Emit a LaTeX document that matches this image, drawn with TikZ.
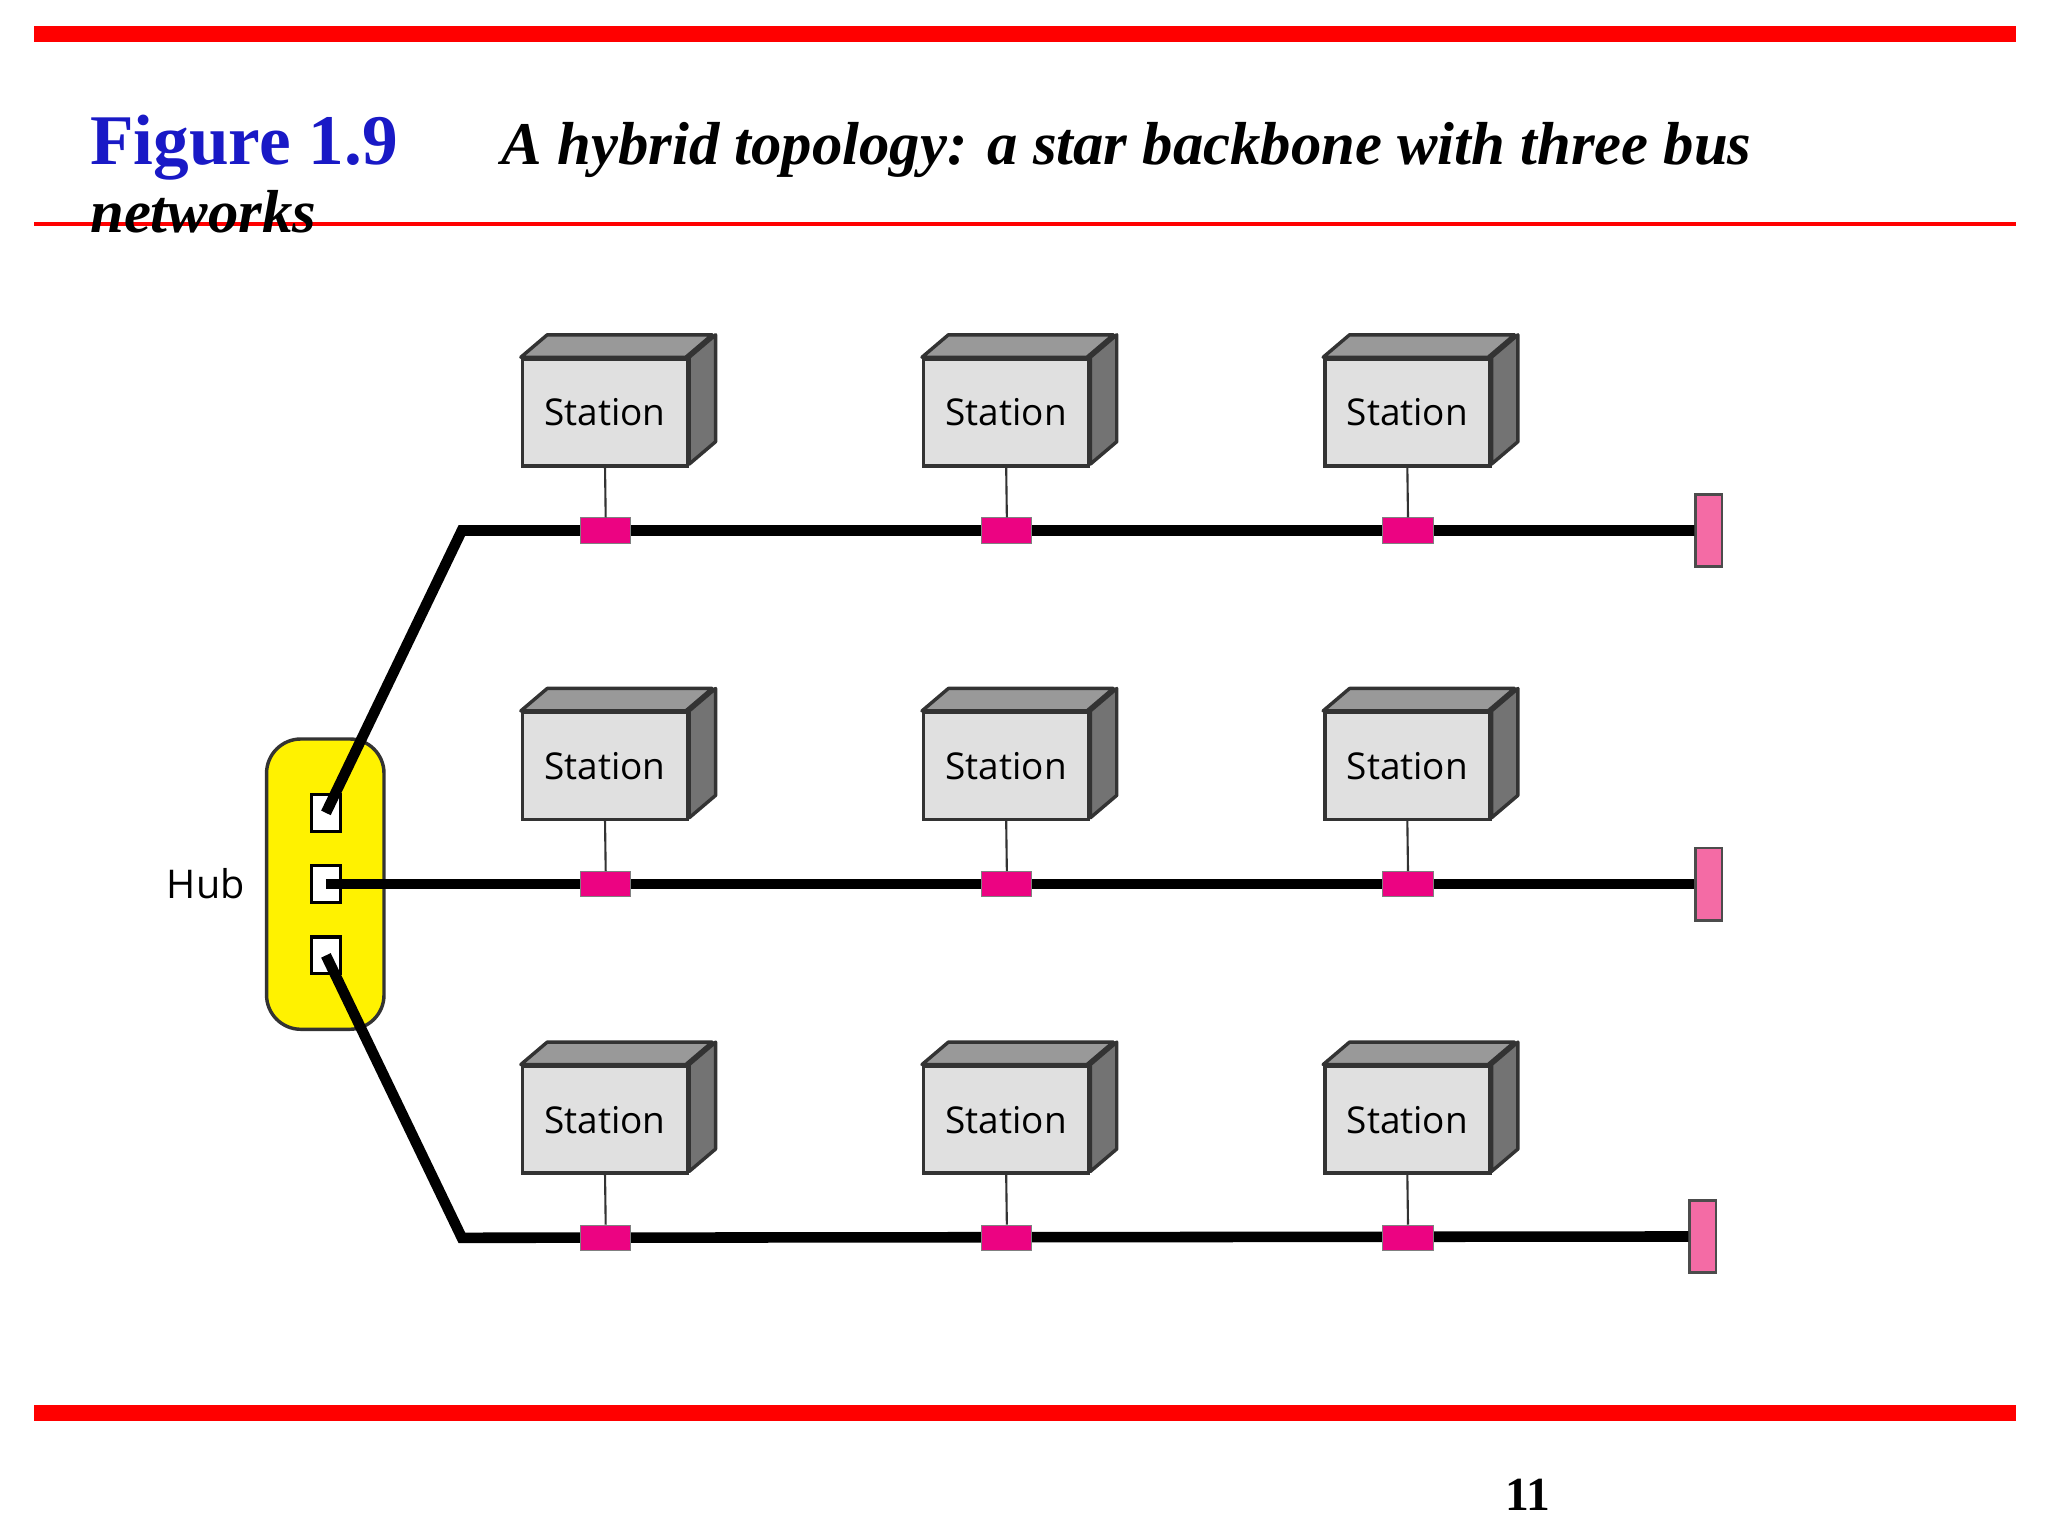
\documentclass[tikz,border=0pt]{standalone}
\usepackage{fontspec}
\setmainfont{Liberation Serif}
\newfontfamily\stfont{Open Sans}
\begin{document}
\begin{tikzpicture}[x=0.5pt,y=-0.5pt,
  station/.style={draw=black!80,line width=1.3pt,fill=black!12,minimum width=62.5pt,minimum height=40.5pt,inner sep=0pt,font=\stfont\fontsize{14}{16}\selectfont},
  tap/.style={draw=black!50,line width=0.4pt,fill=magenta!90!red,minimum width=19pt,minimum height=9.5pt,inner sep=0pt},
  term/.style={draw=black!70,line width=1pt,fill=magenta!45!pink,minimum width=10pt,minimum height=27.5pt,inner sep=0pt},
  port/.style={draw=black,line width=1.2pt,fill=white,minimum width=11pt,minimum height=14pt,inner sep=0pt},
  bus/.style={line width=4pt,black},
  stem/.style={line width=0.8pt,black!80}]
\useasboundingbox (0,0) rectangle (1552,1164);
\fill[red] (26,20) rectangle (1528,32);
\fill[red] (26,168.5) rectangle (1528,171.5);
\fill[red] (26,1065) rectangle (1528,1077);
\node[anchor=base west,inner sep=0pt,text=blue!75!black!90,font=\bfseries\fontsize{27}{30}\selectfont] (fig) at (68,125) {Figure 1.9};
\node[anchor=base west,inner sep=0pt,font=\bfseries\itshape\fontsize{23}{26}\selectfont] (title) at (380,125) {A hybrid topology: a star backbone with three bus};
\node[anchor=base west,inner sep=0pt,font=\bfseries\itshape\fontsize{23}{26}\selectfont] (title2) at (68,176) {networks};
\node[anchor=base,inner sep=0pt,font=\bfseries\fontsize{18}{20}\selectfont] (page) at (1158,1145) {11};
% hub
\node[draw=black!80,line width=1.3pt,fill=yellow,rounded corners=13pt,minimum width=44.5pt,minimum height=110pt] (hub) at (246.5,670) {};
\node[font=\stfont\fontsize{15}{17}\selectfont] (hublabel) at (156,670) {Hub};
\node[port] (p1) at (247,616) {};
\node[port] (p2) at (247,670) {};
\node[port] (p3) at (247,724) {};
% bends and terminators
\coordinate (b1) at (350,402);
\coordinate (b3) at (350,938);
\node[term] (t1) at (1295,402) {};
\node[term] (t2) at (1295,670) {};
\node[term] (t3) at (1290.5,937) {};
\draw[bus] (p1.center) -- (b1) -- (t1.west);
\draw[bus] (p2.center) -- (t2.west);
\draw[bus] (p3.center) -- (b3) -- (t3.west);
\foreach \r/\y in {1/0,2/268,3/536}{
  \foreach \c/\x in {1/459,2/763,3/1067}{
    \node[station] (s\r\c) at (\x-0.5,312.5+\y) {Station};
    \fill[black!40,draw=black!80,line width=1.3pt,line join=round]
      (s\r\c.north west) -- ++(20,-17) -- ++(125,0) -- ++(-20,17) -- cycle;
    \fill[black!55,draw=black!80,line width=1.3pt,line join=round]
      (s\r\c.north east) -- ++(20,-17) -- ++(0,81) -- ++(-20,17) -- cycle;
    \node[tap] (k\r\c) at (\x,402+\y) {};
    \draw[stem] (s\r\c.south) -- (k\r\c.north);
  }
}
\end{tikzpicture}
\end{document}
